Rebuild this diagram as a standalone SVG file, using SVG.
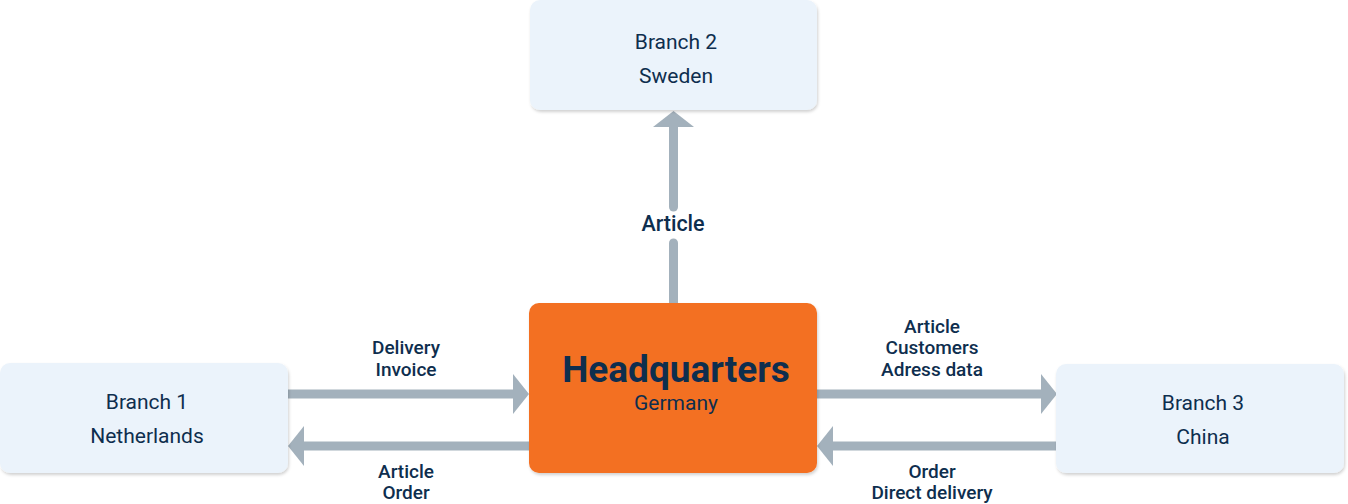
<svg xmlns="http://www.w3.org/2000/svg" width="1348" height="504" viewBox="0 0 1348 504">
  <defs>
    <filter id="sh" x="-5%" y="-10%" width="112%" height="125%">
      <feDropShadow dx="1" dy="2" stdDeviation="1.5" flood-color="#000" flood-opacity="0.18"/>
    </filter>
    <style>
      .box { fill: #EBF3FB; filter: url(#sh); }
      .hq { fill: #F37021; filter: url(#sh); }
      .nt { font-family: Roboto, "Liberation Sans", sans-serif; font-size: 21px; fill: #0E2E4E; text-anchor: middle; }
      .lbl { font-family: Roboto, "Liberation Sans", sans-serif; font-size: 19px; font-weight: 500; fill: #0E2E4E; text-anchor: middle; }
      .shaft { stroke: #A3B1BC; stroke-width: 9; fill: none; }
      .head { fill: #A3B1BC; }
    </style>
  </defs>
  <rect width="1348" height="504" fill="#FFFFFF"/>

  <g id="connectors">
    <!-- HQ to Branch 2 -->
    <line class="shaft" x1="673.5" y1="303" x2="673.5" y2="243" stroke-linecap="round"/>
    <line class="shaft" x1="673.5" y1="207" x2="673.5" y2="124" stroke-linecap="round"/>
    <polygon class="head" points="653,127 673.5,111 694,127"/>
    <text class="lbl" x="673" y="231" style="font-size:21.5px">Article</text>

    <!-- Branch 1 to HQ -->
    <line class="shaft" x1="288" y1="394" x2="515" y2="394"/>
    <polygon class="head" points="513,374 529,394 513,414"/>
    <text class="lbl" x="406" y="353.5">Delivery</text>
    <text class="lbl" x="406" y="375.5">Invoice</text>

    <!-- HQ to Branch 1 -->
    <line class="shaft" x1="529" y1="446" x2="302" y2="446"/>
    <polygon class="head" points="304,426 288,446 304,466"/>
    <text class="lbl" x="406" y="477.5">Article</text>
    <text class="lbl" x="406" y="499">Order</text>

    <!-- HQ to Branch 3 -->
    <line class="shaft" x1="817" y1="394" x2="1044" y2="394"/>
    <polygon class="head" points="1041,374 1057,394 1041,414"/>
    <text class="lbl" x="932" y="332.5">Article</text>
    <text class="lbl" x="932" y="354">Customers</text>
    <text class="lbl" x="932" y="375.5">Adress data</text>

    <!-- Branch 3 to HQ -->
    <line class="shaft" x1="1056" y1="446" x2="830" y2="446"/>
    <polygon class="head" points="833,426 817,446 833,466"/>
    <text class="lbl" x="932" y="477.5">Order</text>
    <text class="lbl" x="932" y="499">Direct delivery</text>
  </g>

  <g id="branch2">
    <rect class="box" x="530" y="0" width="287" height="110" rx="10"/>
    <text class="nt" x="676" y="49">Branch 2</text>
    <text class="nt" x="676" y="83">Sweden</text>
  </g>

  <g id="hq">
    <rect class="hq" x="529" y="303" width="288" height="170" rx="10"/>
    <text class="nt" x="676" y="382" style="font-size:37px;font-weight:700">Headquarters</text>
    <text class="nt" x="676" y="410">Germany</text>
  </g>

  <g id="branch1">
    <rect class="box" x="0" y="363" width="288" height="110" rx="10"/>
    <text class="nt" x="147" y="409">Branch 1</text>
    <text class="nt" x="147" y="443">Netherlands</text>
  </g>

  <g id="branch3">
    <rect class="box" x="1056" y="364" width="288" height="109" rx="10"/>
    <text class="nt" x="1203" y="410">Branch 3</text>
    <text class="nt" x="1203" y="444">China</text>
  </g>
</svg>
